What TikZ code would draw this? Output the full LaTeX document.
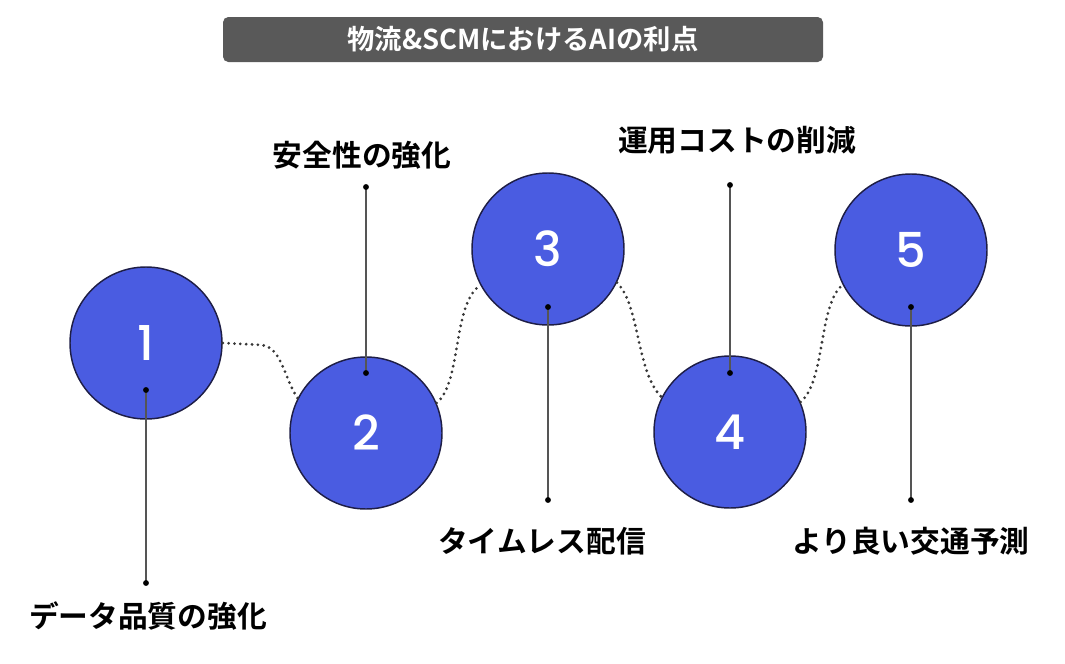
\documentclass[tikz,border=0pt]{standalone}
\usepackage{fontspec}
\newfontfamily\jpb{Noto Sans CJK JP Bold}
\newfontfamily\numf{Poppins}[UprightFont=* Medium]
\definecolor{circblue}{RGB}{74,92,225}
\definecolor{circedge}{RGB}{30,30,70}
\definecolor{titlegray}{RGB}{89,89,89}
\definecolor{linegray}{RGB}{85,85,85}
\definecolor{dotgray}{RGB}{55,55,55}
\tikzset{
  stepcirc/.style={circle, draw=circedge, line width=1.1pt, fill=circblue, minimum size=114pt, inner sep=0pt, text=white, font=\numf\fontsize{36}{36}\selectfont},
  titlebox/.style={rectangle, rounded corners=4pt, fill=titlegray, minimum width=450pt, minimum height=33.75pt, inner sep=0pt, text=white, font=\jpb\fontsize{20.5}{22}\selectfont},
  lbl/.style={inner sep=0pt, text=black, font=\jpb\fontsize{22.3}{25}\selectfont},
  stem/.style={draw=linegray, line width=1.1pt},
  pin/.style={fill=black, draw=none},
  link/.style={draw=dotgray, line width=2.3pt, dash pattern=on 0pt off 4.4pt, line cap=round}
}
\begin{document}
\begin{tikzpicture}[x=0.75pt, y=-0.75pt]
\useasboundingbox (0,0) rectangle (1065,664);
\node[titlebox] (title) at (523,39.5) {物流\&SCMにおけるAIの利点};
% circles
\node[stepcirc] (c1) at (146,343) {1};
\node[stepcirc] (c2) at (366,433) {2};
\node[stepcirc] (c3) at (548,249) {3};
\node[stepcirc] (c4) at (730,432) {4};
\node[stepcirc] (c5) at (911,250) {5};
% dotted links
\draw[link] (c1.east) -- (262,345) .. controls (282,348) and (284,378) .. (c2.153);
\draw[link] (c2.23) .. controls (462,382) and (452,305) .. (c3.208);
\draw[link] (c3.334) .. controls (640,305) and (636,372) .. (c4.153);
\draw[link] (c4.23) .. controls (826,380) and (818,305) .. (c5.207);
% stems
\coordinate (p1a) at (146,390); \coordinate (p1b) at (146,583);
\coordinate (p2a) at (366,187); \coordinate (p2b) at (366,373);
\coordinate (p3a) at (548,307); \coordinate (p3b) at (548,500);
\coordinate (p4a) at (730,185); \coordinate (p4b) at (730,373);
\coordinate (p5a) at (911,307); \coordinate (p5b) at (911,500);
\foreach \i in {1,...,5}{
  \draw[stem] (p\i a) -- (p\i b);
  \fill[pin] (p\i a) circle (2.2pt);
  \fill[pin] (p\i b) circle (2.2pt);
}
% labels
\node[lbl] (l1) at (148,616) {データ品質の強化};
\node[lbl] (l2) at (362,155) {安全性の強化};
\node[lbl] (l3) at (542,541) {タイムレス配信};
\node[lbl] (l4) at (737,140) {運用コストの削減};
\node[lbl] (l5) at (911,541) {より良い交通予測};
\end{tikzpicture}
\end{document}
